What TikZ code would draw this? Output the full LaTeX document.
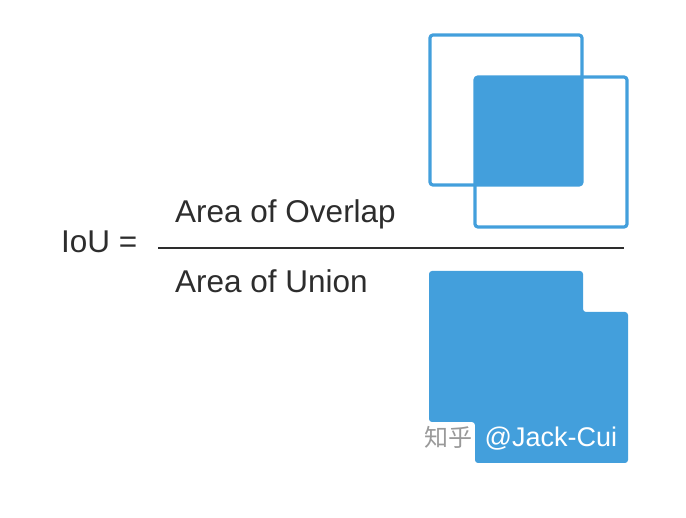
\documentclass[tikz,border=0pt]{standalone}
\usepackage{fontspec}
\setmainfont{Liberation Sans}
\newfontfamily\cjkfont{Noto Sans CJK SC}
\usepackage{xcolor}
\usetikzlibrary{positioning}
\definecolor{boxblue}{RGB}{67,159,220}
\definecolor{txtgray}{RGB}{45,45,45}

\begin{document}
\begin{tikzpicture}[x=1pt,y=-1pt,
  lbl/.style={anchor=base west,inner sep=0pt,text=txtgray,font=\fontsize{31.5}{38}\selectfont},
  frame/.style={draw=boxblue,line width=3.2pt,rounded corners=3pt},
  area/.style={fill=boxblue,rounded corners=3pt},
  wm/.style={anchor=base west,inner sep=0pt,font=\fontsize{27}{32}\selectfont}]
\useasboundingbox (0,0) rectangle (686,518);
% formula
\node[lbl] (iou) at (61,253) {IoU =};
\node[lbl] (overlap) at (175,223) {Area of Overlap};
\node[lbl] (union) at (175,293) {Area of Union};
\coordinate (barL) at (158,248);
\coordinate (barR) at (624,248);
\draw[txtgray,line width=1.8pt] (barL) -- (barR);
% overlap picture
\fill[area] (475,77) rectangle (582,185);
\draw[frame] (430,35) rectangle (582,185);
\draw[frame] (475,77) rectangle (627,227);
% union picture
\fill[area] (429,271) -- (583,271) -- (583,312) -- (628,312) -- (628,463)
  -- (475,463) -- (475,422) -- (429,422) -- cycle;
% watermark
\node[wm,text=black!40,font=\fontsize{24}{30}\selectfont] (zhihu) at (424,447) {\cjkfont 知乎};
\node[wm,text=white,right=12pt of zhihu.base east,anchor=base west] (jack) {@Jack-Cui};
\end{tikzpicture}
\end{document}
